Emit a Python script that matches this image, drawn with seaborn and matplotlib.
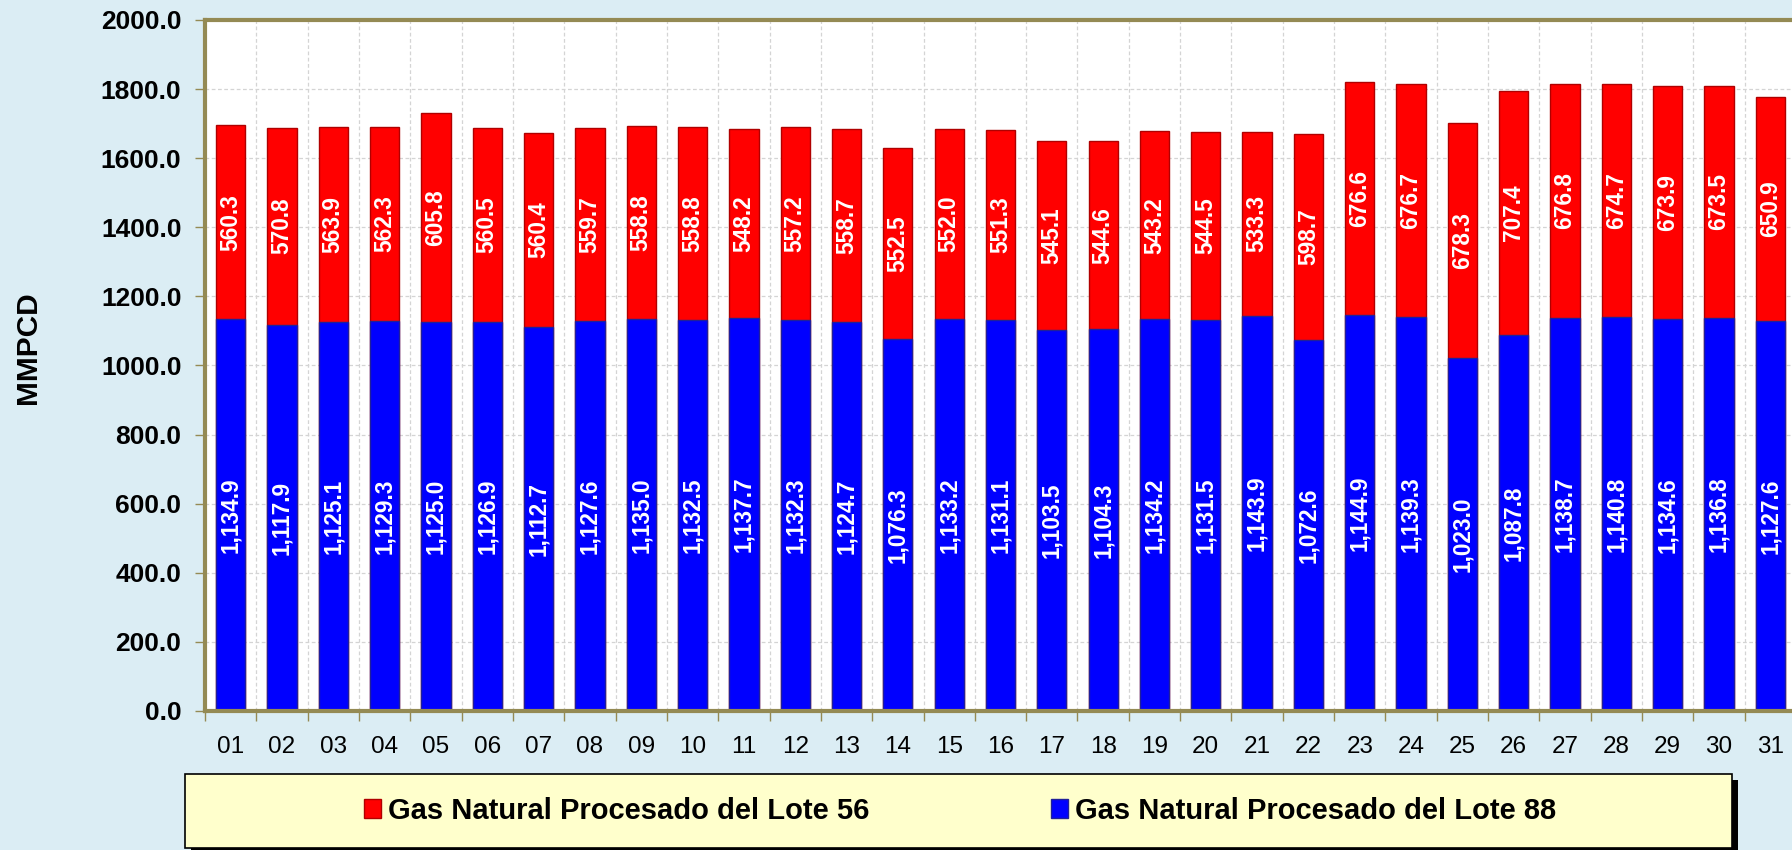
import matplotlib
matplotlib.use("Agg")
import matplotlib.pyplot as plt
import seaborn as sns
import pandas as pd
from matplotlib.patches import Rectangle, Patch
from matplotlib.ticker import FixedLocator

days = [f"{i:02d}" for i in range(1, 32)]
lote56 = [560.3, 570.8, 563.9, 562.3, 605.8, 560.5, 560.4, 559.7, 558.8, 558.8,
          548.2, 557.2, 558.7, 552.5, 552.0, 551.3, 545.1, 544.6, 543.2, 544.5,
          533.3, 598.7, 676.6, 676.7, 678.3, 707.4, 676.8, 674.7, 673.9, 673.5, 650.9]
lote88 = [1134.9, 1117.9, 1125.1, 1129.3, 1125.0, 1126.9, 1112.7, 1127.6, 1135.0, 1132.5,
          1137.7, 1132.3, 1124.7, 1076.3, 1133.2, 1131.1, 1103.5, 1104.3, 1134.2, 1131.5,
          1143.9, 1072.6, 1144.9, 1139.3, 1023.0, 1087.8, 1138.7, 1140.8, 1134.6, 1136.8, 1127.6]
y_ticks = [0, 200, 400, 600, 800, 1000, 1200, 1400, 1600, 1800, 2000]
label56 = "Gas Natural Procesado del Lote 56"
label88 = "Gas Natural Procesado del Lote 88"
ylabel = "MMPCD"

BG = "#DBEDF4"
RED = "#FF0000"
DARKRED = "#B00000"
BLUE = "#0000FF"
DARKBLUE = "#20209A"
OLIVE = "#948A54"

sns.set_theme(style="white")
plt.rcParams['font.family'] = ['Liberation Sans', 'DejaVu Sans']
plt.rcParams.update({"text.color": "black", "axes.labelcolor": "black",
                     "xtick.color": "black", "ytick.color": "black"})

df = pd.DataFrame({"day": days, "l56": lote56, "l88": lote88})
df["total"] = df["l56"] + df["l88"]

W, H = 1792, 850
fig = plt.figure(figsize=(W / 100, H / 100), dpi=100, facecolor=BG)
ax = fig.add_axes([205 / W, 1 - 711 / H, 1591 / W, 691 / H])
ax.set_facecolor("white")
ax.set_axisbelow(True)

sns.barplot(data=df, x="day", y="total", color=RED, width=0.57, saturation=1,
            edgecolor=DARKRED, linewidth=1.0, ax=ax, order=days)
sns.barplot(data=df, x="day", y="l88", color=BLUE, width=0.57, saturation=1,
            edgecolor=DARKBLUE, linewidth=1.0, ax=ax, order=days)

for i, (b, r) in enumerate(zip(lote88, lote56)):
    ax.text(i, b / 2, f"{b:,.1f}", rotation=90, ha="center", va="center",
            color="white", fontweight="bold", fontsize=16.3)
    ax.text(i, b + r / 2, f"{r:.1f}", rotation=90, ha="center", va="center",
            color="white", fontweight="bold", fontsize=16.3)

ax.set_xlim(-0.5, len(days) - 0.5)
ax.set_ylim(0, 2000)
ax.set_yticks(y_ticks)
ax.set_yticklabels([f"{v:.1f}" for v in y_ticks], fontweight="bold", fontsize=19, color="black")
ax.xaxis.set_minor_locator(FixedLocator([i - 0.5 for i in range(len(days) + 1)]))
ax.tick_params(axis="x", which="major", length=0, pad=18, labelsize=17.5, labelcolor="black")
ax.tick_params(axis="x", which="minor", length=7, width=1, color=OLIVE, direction="out", bottom=True)
ax.tick_params(axis="y", which="major", length=7, width=1, color=OLIVE, direction="out", left=True,
               pad=10, labelcolor="black")
ax.set_xlabel("")
ax.set_ylabel(ylabel, fontweight="bold", fontsize=21.5, va="center", color="black")
ax.yaxis.set_label_coords((28 - 205) / 1591, (711 - 348) / 691)

ax.grid(False)
ax.yaxis.grid(True, which="major", color="#D4D4D4", linestyle=(0, (3, 2)), linewidth=0.9)
ax.xaxis.grid(True, which="minor", color="#D4D4D4", linestyle=(0, (3, 2)), linewidth=0.9)

for s in ax.spines.values():
    s.set_color(OLIVE)
    s.set_linewidth(3)

# legend box with shadow
shadow = Rectangle((191 / W, 1 - 854 / H), (1732 - 185) / W, (848 - 774) / H,
                   transform=fig.transFigure, facecolor="black", edgecolor="none", zorder=1)
box = Rectangle((185 / W, 1 - 848 / H), (1732 - 185) / W, (848 - 774) / H,
                transform=fig.transFigure, facecolor="#FFFFCC", edgecolor="black",
                linewidth=1.2, zorder=2)
fig.add_artist(shadow)
fig.add_artist(box)

handles = [Patch(facecolor=RED, edgecolor=DARKRED, label=label56),
           Patch(facecolor=BLUE, edgecolor=DARKBLUE, label=label88)]
leg = fig.legend(handles=handles, loc="center", bbox_to_anchor=(960 / W, 1 - 811 / H),
                 ncol=2, frameon=False, prop=dict(weight="bold", size=21),
                 handlelength=0.6, handleheight=0.6, handletextpad=0.25,
                 columnspacing=6.2, labelcolor="black")
leg.set_zorder(3)

fig.savefig("out.png", dpi=100, facecolor=BG)
